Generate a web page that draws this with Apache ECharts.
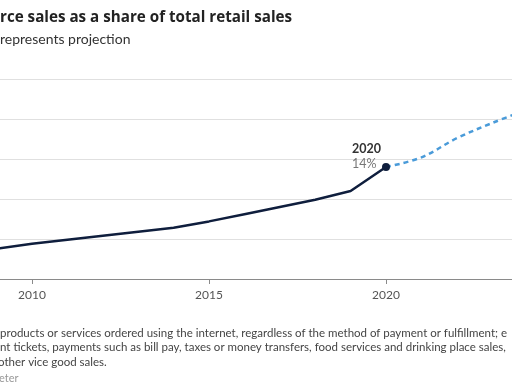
<!DOCTYPE html>
<html><head><meta charset="utf-8">
<script src="https://cdn.jsdelivr.net/npm/echarts@6/dist/echarts.min.js"></script>
<style>html,body{margin:0;padding:0;background:#fff}#c{width:512px;height:384px}</style>
</head><body><div id="c"></div>
<script>
const actualYears = [2009,2010,2011,2012,2013,2014,2015,2016,2017,2018,2019,2020];
const actualShare = [3.8,4.4,4.9,5.4,5.9,6.4,7.2,8.1,9.0,9.9,11.0,14.0];
const projYears = [2020,2021,2022,2023,2024];
const projShare = [14.0,15.2,17.6,19.5,21.2];
const xTickLabels = [2010,2015,2020];
const xRange = [2009.096,2023.559];
const yTicks = [0,5,10,15,20,25];
const titleText = 'rce sales as a share of total retail sales';
const subtitleText = 'represents projection';
const noteLines = [
  'products or services ordered using the internet, regardless of the method of payment or fulfillment; e',
  'nt tickets, payments such as bill pay, taxes or money transfers, food services and drinking place sales,',
  'other vice good sales.'
];
const sourceText = 'eter';
const FONT = 'Lato, "Open Sans", sans-serif';

const chart = echarts.init(document.getElementById('c'), null, {renderer:'canvas'});
chart.setOption({
  animation:false,
  grid:{left:0, right:0, top:79, bottom:105, containLabel:false},
  xAxis:{type:'value', min:xRange[0], max:xRange[1],
    axisLine:{show:true, lineStyle:{color:'#8a8a8a', width:1}},
    axisTick:{show:true, length:5, customValues:xTickLabels, lineStyle:{color:'#8a8a8a'}},
    axisLabel:{color:'#555', fontFamily:FONT, fontSize:12, margin:10, customValues:xTickLabels,
      formatter:(v)=>String(Math.round(v))},
    splitLine:{show:false}},
  yAxis:{type:'value', min:yTicks[0], max:yTicks[yTicks.length-1], interval:5,
    axisLine:{show:false}, axisTick:{show:false}, axisLabel:{show:false},
    splitLine:{show:true, showMaxLine:true, lineStyle:{color:'#e0e0e0', width:1.2}}},
  series:[
    {type:'line', data:projYears.map((y,i)=>[y,projShare[i]]), symbol:'none', smooth:0.35,
     lineStyle:{color:'#4a9bd9', width:2.5, type:[5,4]}, z:2},
    {type:'line', data:actualYears.map((y,i)=>[y,actualShare[i]]),
     symbol:'circle', symbolSize:(v,p)=>p.dataIndex===actualYears.length-1?8:0,
     itemStyle:{color:'#0f1e3d'},
     lineStyle:{color:'#0f1e3d', width:2.5}, z:3,
     label:{show:true, position:[-30,-22], align:'left', verticalAlign:'top',
       formatter:(p)=>p.dataIndex===actualYears.length-1?('{a|'+p.value[0]+'}\n{b|'+p.value[1]+'%}'):'',
       rich:{a:{fontFamily:FONT, fontWeight:'bold', fontSize:12.5, color:'#333', lineHeight:15},
             b:{fontFamily:FONT, fontSize:12.5, color:'#777', lineHeight:15}}}}
  ],
  graphic:[
    {type:'text', left:0, top:10, style:{text:titleText, font:'bold 15.2px "Open Sans", sans-serif', fill:'#222'}},
    {type:'text', left:0, top:32, style:{text:subtitleText, font:'14px '+FONT, fill:'#333'}},
    {type:'text', left:0, top:327, style:{text:noteLines[0], font:'11.5px '+FONT, fill:'#444'}},
    {type:'text', left:0, top:341, style:{text:noteLines[1], font:'11.5px '+FONT, fill:'#444'}},
    {type:'text', left:-2, top:356, style:{text:noteLines[2], font:'11.5px '+FONT, fill:'#444'}},
    {type:'text', left:-1, top:373, style:{text:sourceText, font:'11px '+FONT, fill:'#999'}}
  ]
});
</script></body></html>
